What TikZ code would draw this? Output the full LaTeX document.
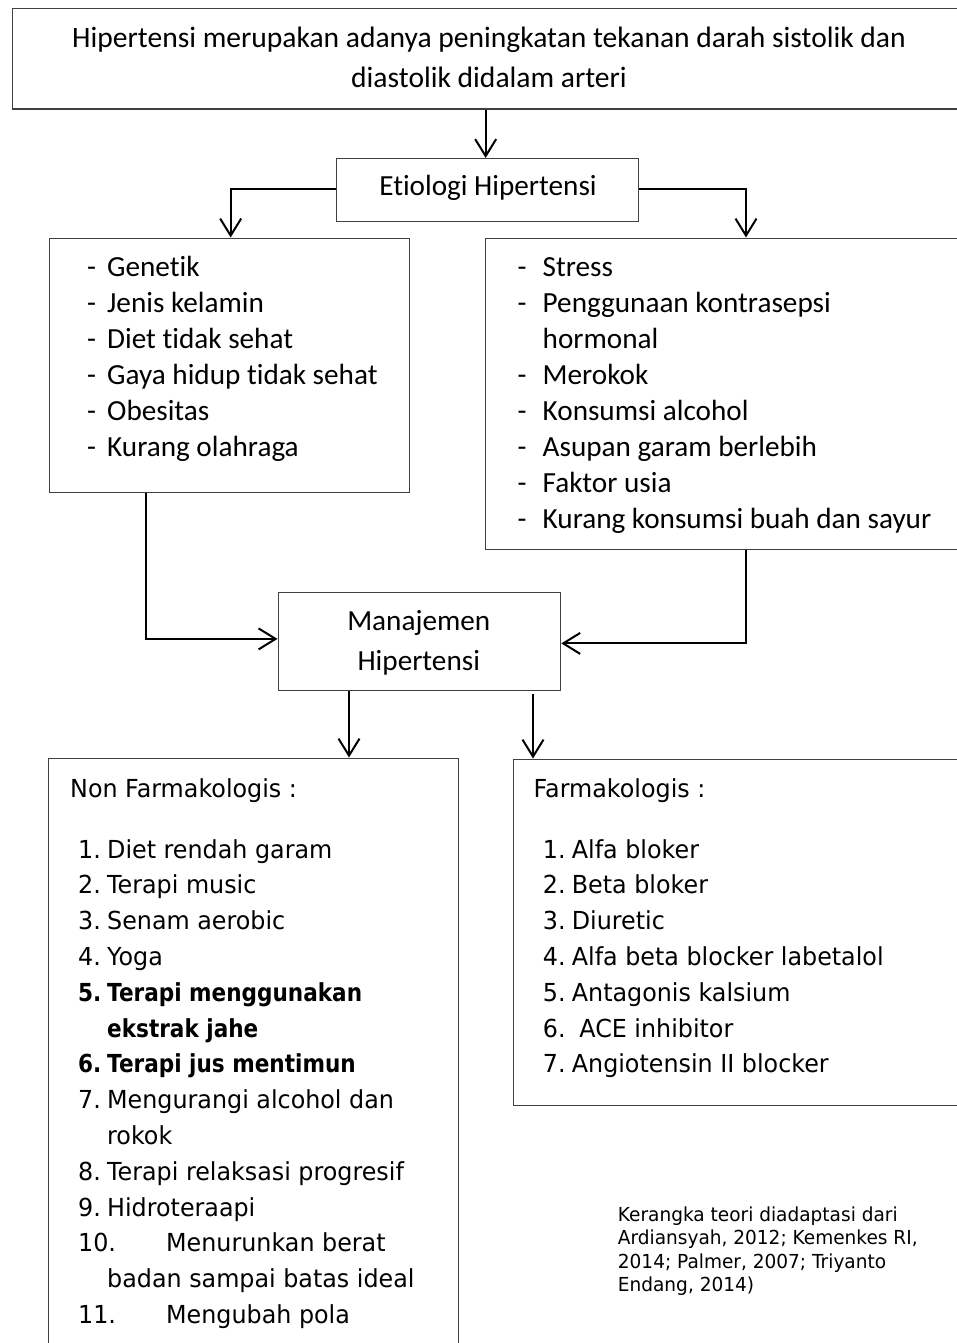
\documentclass[tikz,border=0pt]{standalone}
\usepackage{fontspec}
\setmainfont[RawFeature=-liga]{Carlito}
\newfontfamily\tah[FakeStretch=0.96,BoldFeatures={FakeStretch=0.87}]{DejaVu Sans}
\usetikzlibrary{arrows.meta}
\definecolor{boxgray}{HTML}{404040}
\newcommand\itm[2]{\makebox[29pt][l]{#1}#2}
\newcommand\ditm[2]{\makebox[88pt][l]{#1}#2}
\begin{document}
\begin{tikzpicture}[x=1pt,y=-1pt,
  box/.style={draw=boxgray,line width=1.3pt,rectangle,inner sep=0pt,anchor=north west},
  conn/.style={draw=black,line width=2pt,-{Straight Barb[length=17pt,width=21pt,line width=2pt]}},
  cal/.style={font=\fontsize{29.2}{35}\selectfont,inner sep=0pt,anchor=base west},
  tl/.style={font=\tah\fontsize{24.8}{30}\selectfont,inner sep=0pt,anchor=base west},
  tlb/.style={font=\tah\bfseries\fontsize{24.8}{30}\selectfont,inner sep=0pt,anchor=base west},
  ct/.style={font=\tah\fontsize{19.3}{23}\selectfont,inner sep=0pt,anchor=base west}]
\useasboundingbox (0,0) rectangle (956,1343);
% boxes
\node[box,minimum width=980pt,minimum height=100.5pt] (top) at (12,8) {};
\node[box,minimum width=302pt,minimum height=63pt] (etio) at (336,158) {};
\node[box,minimum width=360pt,minimum height=254pt] (left) at (48.5,237.5) {};
\node[box,minimum width=500pt,minimum height=311pt] (right) at (485,237.5) {};
\node[box,minimum width=282.5pt,minimum height=98.5pt] (mgmt) at (277.5,591.5) {};
\node[box,minimum width=409.5pt,minimum height=700pt] (nonf) at (48,757.5) {};
\node[box,minimum width=500pt,minimum height=346.5pt] (farm) at (512.5,758.5) {};
% top text
\node[cal,font=\fontsize{29.55}{35}\selectfont,anchor=base] (t1) at (489,47.5) {Hipertensi merupakan adanya peningkatan tekanan darah sistolik dan};
\node[cal,font=\fontsize{29.55}{35}\selectfont,anchor=base] (t2) at (489,88) {diastolik didalam arteri};
\node[cal,anchor=base] (et) at (488,196) {Etiologi Hipertensi};
% left list
\foreach \t [count=\i] in {Genetik,Jenis kelamin,Diet tidak sehat,Gaya hidup tidak sehat,Obesitas,Kurang olahraga}
  \node[cal] (lf\i) at (87,{276.5+36*(\i-1)}) {\makebox[20pt][l]{-}\t};
% right list
\node[cal] (r1) at (517.5,276.5) {\makebox[25pt][l]{-}Stress};
\node[cal] (r2) at (517.5,312.5) {\makebox[25pt][l]{-}Penggunaan kontrasepsi};
\node[cal] (r3) at (542.5,348.5) {hormonal};
\node[cal] (r4) at (517.5,384.5) {\makebox[25pt][l]{-}Merokok};
\node[cal] (r5) at (517.5,420.5) {\makebox[25pt][l]{-}Konsumsi alcohol};
\node[cal] (r6) at (517.5,456.5) {\makebox[25pt][l]{-}Asupan garam berlebih};
\node[cal] (r7) at (517.5,492.5) {\makebox[25pt][l]{-}Faktor usia};
\node[cal] (r8) at (517.5,528.5) {\makebox[25pt][l]{-}Kurang konsumsi buah dan sayur};
% management
\node[cal,anchor=base] (m1) at (418.75,630.5) {Manajemen};
\node[cal,anchor=base] (m2) at (418.75,670.5) {Hipertensi};
% non farmakologis
\node[tl] (nh) at (70,797.5) {Non Farmakologis :};
\node[tl] (n1) at (78,858) {\itm{1.}{Diet rendah garam}};
\node[tl] (n2) at (78,893.8) {\itm{2.}{Terapi music}};
\node[tl] (n3) at (78,929.6) {\itm{3.}{Senam aerobic}};
\node[tl] (n4) at (78,965.4) {\itm{4.}{Yoga}};
\node[tlb] (n5) at (78,1001.2) {\itm{5.}{Terapi menggunakan}};
\node[tlb] (n5b) at (78,1037.0) {\itm{}{ekstrak jahe}};
\node[tlb] (n6) at (78,1072.8) {\itm{6.}{Terapi jus mentimun}};
\node[tl] (n7) at (78,1108.6) {\itm{7.}{Mengurangi alcohol dan}};
\node[tl] (n7b) at (78,1144.4) {\itm{}{rokok}};
\node[tl] (n8) at (78,1180.2) {\itm{8.}{Terapi relaksasi progresif}};
\node[tl] (n9) at (78,1216.0) {\itm{9.}{Hidroteraapi}};
\node[tl] (n10) at (78,1251.8) {\ditm{10.}{Menurunkan berat}};
\node[tl] (n10b) at (78,1287.6) {\itm{}{badan sampai batas ideal}};
\node[tl] (n11) at (78,1323.4) {\ditm{11.}{Mengubah pola}};
% farmakologis
\node[tl] (fh) at (533.5,797.5) {Farmakologis :};
\node[tl] (f1) at (542.7,858) {\itm{1.}{Alfa bloker}};
\node[tl] (f2) at (542.7,893.8) {\itm{2.}{Beta bloker}};
\node[tl] (f3) at (542.7,929.6) {\itm{3.}{Diuretic}};
\node[tl] (f4) at (542.7,965.4) {\itm{4.}{Alfa beta blocker labetalol}};
\node[tl] (f5) at (542.7,1001.2) {\itm{5.}{Antagonis kalsium}};
\node[tl] (f6) at (542.7,1037.0) {\itm{6.}{\hspace{7.5pt}ACE inhibitor}};
\node[tl] (f7) at (542.7,1072.8) {\itm{7.}{Angiotensin II blocker}};
% citation
\node[ct] (c1) at (617.7,1221) {Kerangka teori diadaptasi dari};
\node[ct] (c2) at (617.7,1244.5) {Ardiansyah, 2012; Kemenkes RI,};
\node[ct] (c3) at (617.7,1268) {2014; Palmer, 2007; Triyanto};
\node[ct] (c4) at (617.7,1291.5) {Endang, 2014)};
% connectors
\draw[conn] ([xshift=-2pt]etio.north |- top.south) -- ([xshift=-2pt]etio.north);
\draw[conn] ([yshift=1.5pt]etio.west) -| ([xshift=1.5pt]left.north);
\coordinate (rtop) at ([xshift=261pt]right.north west);
\draw[conn] ([yshift=1.5pt]etio.east) -| (rtop);
\coordinate (lbot) at ([xshift=97.5pt]left.south west);
\draw[conn] (lbot) |- ([yshift=2.5pt]mgmt.west);
\coordinate (rbot) at ([xshift=261pt]right.south west);
\draw[conn] (rbot) |- ([yshift=-2pt]mgmt.east);
\coordinate (d1) at ([xshift=71.5pt]mgmt.south west);
\draw[conn] (d1) -- (d1 |- nonf.north);
\coordinate (d2) at ([xshift=255.5pt,yshift=-3pt]mgmt.south west);
\draw[conn] (d2) -- (d2 |- farm.north);
\end{tikzpicture}
\end{document}
